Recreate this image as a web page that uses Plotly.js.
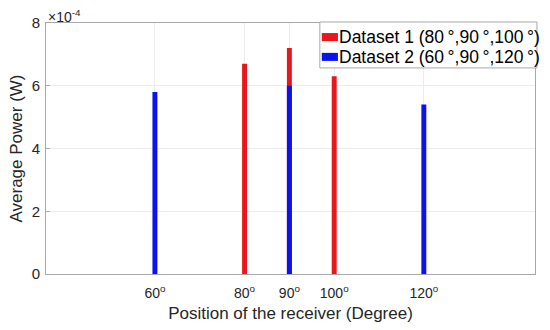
<!DOCTYPE html>
<html>
<head>
<script src="https://cdn.plot.ly/plotly-3.0.1.min.js"></script>
<style>html,body{margin:0;padding:0;background:#fff}</style>
</head>
<body>
<div id="chart" style="width:550px;height:330px"></div>
<script>
const ds1Positions = [80, 90, 100];
const ds1Values = [6.7, 7.2, 6.3];
const ds2Positions = [60, 90, 120];
const ds2Values = [5.8, 6.0, 5.4];
const seriesNames = ['Dataset 1 (80\u2009°,90\u2009°,100\u2009°)', 'Dataset 2 (60\u2009°,90\u2009°,120\u2009°)'];
const seriesColors = ['#e8161d', '#0a12ee'];
const tickValues = [60, 80, 90, 100, 120];
const tickLabels = ['60<sup>o</sup>', '80<sup>o</sup>', '90<sup>o</sup>', '100<sup>o</sup>', '120<sup>o</sup>'];
const yTicks = [0, 2, 4, 6, 8];

const font = 'Liberation Sans, Arial, sans-serif';
const data = [
  {type: 'bar', x: ds1Positions, y: ds1Values, width: 1.1, name: seriesNames[0],
   marker: {color: seriesColors[0], line: {width: 0}}},
  {type: 'bar', x: ds2Positions, y: ds2Values, width: 1.1, name: seriesNames[1],
   marker: {color: seriesColors[1], line: {width: 0}}}
];

// custom legend (MATLAB style) in paper coordinates
const shapes = [
  {type: 'rect', xref: 'paper', yref: 'paper', x0: 0.560, x1: 1.004, y0: 0.821, y1: 1.004,
   fillcolor: '#fff', line: {color: '#a8a8a8', width: 1}, layer: 'above'},
  {type: 'rect', xref: 'paper', yref: 'paper', x0: 0.564, x1: 0.597, y0: 0.928, y1: 0.960,
   fillcolor: seriesColors[0], line: {width: 0}, layer: 'above'},
  {type: 'rect', xref: 'paper', yref: 'paper', x0: 0.564, x1: 0.597, y0: 0.849, y1: 0.881,
   fillcolor: seriesColors[1], line: {width: 0}, layer: 'above'}
];

const layout = {
  width: 550, height: 330,
  margin: {l: 46, r: 15, t: 23, b: 56},
  paper_bgcolor: '#fff', plot_bgcolor: '#fff',
  barmode: 'overlay',
  font: {family: font, color: '#262626'},
  showlegend: false,
  shapes: shapes,
  xaxis: {range: [35.7, 144.8], tickvals: tickValues, ticktext: tickLabels, showgrid: true, gridcolor: '#ececec',
    showline: true, linecolor: '#a8a8a8', mirror: true, ticks: '', zeroline: false,
    tickfont: {size: 14, color: '#262626'}, ticklabelstandoff: 6,
    title: {text: 'Position of the receiver (Degree)', font: {size: 17, color: '#262626'}, standoff: 7}},
  yaxis: {range: [0, 8], tickvals: yTicks, showgrid: true, gridcolor: '#ececec',
    showline: true, linecolor: '#a8a8a8', mirror: true, ticks: 'inside', ticklen: 4, tickcolor: '#a8a8a8', zeroline: false,
    tickfont: {size: 15, color: '#262626'}, ticklabelstandoff: 2,
    title: {text: 'Average Power (W)', font: {size: 17, color: '#262626'}, standoff: 4}},
  annotations: [
    {xref: 'paper', yref: 'paper', x: 0, y: 1, xanchor: 'left', yanchor: 'bottom', showarrow: false,
     text: '×10<sup>-4</sup>', font: {size: 14, color: '#262626', family: font}, yshift: -4},
    {xref: 'paper', yref: 'paper', x: 0.599, y: 0.944, xanchor: 'left', yanchor: 'middle', showarrow: false,
     text: seriesNames[0], font: {size: 17.5, color: '#000', family: font}, xshift: -2},
    {xref: 'paper', yref: 'paper', x: 0.599, y: 0.865, xanchor: 'left', yanchor: 'middle', showarrow: false,
     text: seriesNames[1], font: {size: 17.5, color: '#000', family: font}, xshift: -2}
  ]
};
Plotly.newPlot('chart', data, layout, {displayModeBar: false, staticPlot: true});
</script>
</body>
</html>
